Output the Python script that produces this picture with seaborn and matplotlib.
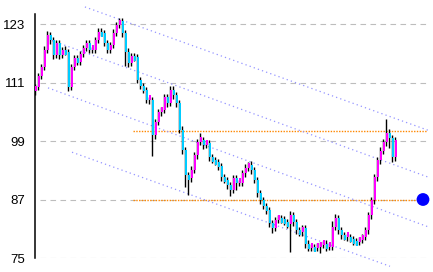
import numpy as np
import pandas as pd
import matplotlib
matplotlib.use("Agg")
import matplotlib.pyplot as plt
import seaborn as sns

# ---------------- data ----------------
closes = [
    110.1, 112.3, 114.2, 117.7, 120.7, 119.7, 116.6, 119.1, 116.6, 117.7,
    117.3, 110.1, 114.2, 116.0, 115.2, 116.8, 118.1, 119.1, 117.7, 117.7,
    119.7, 121.4, 121.2, 119.1, 117.7, 118.7, 121.2, 122.8, 123.6, 121.2,
    117.3, 115.0, 116.4, 116.2, 111.5, 110.3, 109.5, 107.4, 107.4, 100.2,
    102.9, 104.9, 105.4, 108.0, 106.8, 109.5, 108.4, 106.8, 101.3, 97.2,
    92.0, 91.4, 93.1, 96.1, 98.8, 99.2, 98.2, 98.6, 95.7, 95.1,
    94.7, 93.9, 91.6, 91.0, 90.0, 89.0, 91.4, 90.4, 90.4, 92.4,
    93.5, 94.1, 93.1, 91.0, 88.3, 86.9, 85.7, 84.8, 82.2, 81.2,
    82.8, 83.2, 83.0, 82.4, 82.0, 83.8, 82.4, 80.7, 80.3, 81.2,
    77.9, 77.1, 77.3, 77.1, 77.3, 77.7, 77.9, 77.3, 77.3, 81.4,
    83.2, 80.7, 79.7, 79.3, 79.3, 78.9, 78.5, 78.3, 78.7, 79.3,
    80.7, 83.8, 86.9, 91.6, 95.1, 97.0, 98.8, 100.6, 99.6, 95.7,
    99.2,
]
first_open = 109.3

lo_wick = [
    0.8, 0.6, 0.6, 0.6, 0.6, 0.7, 0.7, 0.6, 0.7, 0.6,
    0.7, 0.8, 0.6, 0.7, 0.7, 0.6, 0.6, 0.7, 0.7, 0.6,
    0.6, 0.6, 0.7, 0.7, 0.6, 0.7, 0.6, 0.6, 0.6, 0.8,
    3.0, 0.9, 0.7, 0.8, 0.7, 0.7, 0.6, 0.7, 0.8, 4.3,
    0.7, 0.6, 0.7, 0.6, 0.8, 0.6, 0.7, 0.8, 0.7, 0.8,
    2.5, 3.5, 0.9, 0.6, 0.7, 0.6, 0.8, 0.7, 0.8, 0.7,
    0.7, 0.8, 0.8, 0.7, 0.8, 1.2, 0.7, 1.5, 0.7, 0.6,
    0.7, 0.6, 0.8, 0.7, 0.8, 0.8, 0.7, 0.7, 0.9, 1.0,
    0.7, 0.6, 0.8, 0.7, 0.8, 5.8, 0.8, 0.7, 0.8, 0.7,
    0.8, 0.7, 0.6, 0.7, 0.6, 1.2, 0.7, 0.8, 0.6, 0.7,
    0.7, 0.8, 0.7, 0.7, 0.8, 0.7, 0.8, 0.7, 0.6, 0.6,
    0.7, 0.8, 0.7, 0.8, 0.9, 0.8, 0.7, 0.8, 2.0, 1.0,
    0.7,
]
hi_wick = [
    0.6, 0.6, 0.6, 0.7, 0.8, 0.7, 0.6, 0.7, 0.6, 0.6,
    0.7, 0.6, 0.6, 0.6, 0.7, 0.7, 0.6, 0.6, 0.7, 0.6,
    0.6, 0.7, 0.7, 0.6, 0.6, 0.6, 0.7, 0.6, 0.7, 0.6,
    0.6, 0.7, 0.7, 0.6, 0.6, 0.7, 0.6, 0.6, 0.6, 0.6,
    0.7, 0.7, 0.6, 0.7, 0.6, 0.8, 0.7, 0.6, 0.6, 0.7,
    0.6, 0.6, 0.7, 0.7, 0.7, 1.4, 0.6, 0.7, 0.6, 0.7,
    0.6, 0.7, 0.6, 0.6, 0.7, 0.6, 0.7, 0.6, 0.6, 0.7,
    0.7, 0.6, 0.7, 0.6, 0.6, 0.7, 0.6, 0.6, 0.7, 0.6,
    0.7, 0.7, 0.6, 0.6, 0.7, 0.8, 0.6, 0.6, 0.7, 0.6,
    0.6, 0.7, 0.6, 0.6, 0.7, 0.6, 0.6, 0.7, 0.6, 1.2,
    0.8, 0.6, 0.6, 0.7, 0.6, 0.6, 0.7, 0.6, 0.6, 0.7,
    0.6, 0.7, 0.7, 0.6, 0.7, 0.7, 0.7, 3.0, 0.8, 0.6,
    0.7,
]

y_ticks = [75, 87, 99, 111, 123]
y_tick_labels = ["75", "87", "99", "111", "123"]

# horizontal reference levels (orange dotted)
ref_levels = [101.0, 87.0]
ref_x = [32.3, 130.3]

# parallel trend channel lines: (x0, y0, x1, y1) in data units
trend_x0 = [16.3, 5.3, 4.0, 12.0]
trend_y0 = [126.5, 119.6, 109.9, 96.7]
trend_x1 = [130.7, 130.7, 130.7, 118.0]
trend_y1 = [101.2, 91.6, 81.4, 73.3]

# marker point
dot_x = [129.0]
dot_y = [87.0]

# ---------------- build table ----------------
n = len(closes)
idx = np.arange(n)
opens = [first_open] + closes[:-1]
df = pd.DataFrame({"i": idx, "open": opens, "close": closes,
                   "lo_w": lo_wick, "hi_w": hi_wick})
df["low"] = df[["open", "close"]].min(axis=1) - df["lo_w"]
df["high"] = df[["open", "close"]].max(axis=1) + df["hi_w"]
df["up"] = df["close"] >= df["open"]

# ---------------- style ----------------
sns.set_style("white")
plt.rcParams["font.family"] = ["Liberation Sans", "DejaVu Sans"]

W, H = 433, 272
fig = plt.figure(figsize=(W / 100, H / 100), dpi=100)
ax = fig.add_axes([35 / W, 14 / H, (432 - 35) / W, 244 / H])
ax.set_xlim(-1 / 3, 132.0)
ax.set_ylim(75, 75 + 244 / 4.875)

# gridlines
for v in y_ticks:
    ax.plot([1.33, 130.3], [v, v], color="#bdbdbd", lw=0.8,
            ls=(0, (5, 4)), zorder=1)

# orange dotted levels
for v in ref_levels:
    ax.plot(ref_x, [v, v], color="#ff8800", lw=1.0, ls=(0, (1, 1)), zorder=1)

# trend channel lines
for x0, y0, x1, y1 in zip(trend_x0, trend_y0, trend_x1, trend_y1):
    ax.plot([x0, x1], [y0, y1], color="#9494ff", lw=0.9,
            ls=(0, (1, 2.5)), clip_on=False, zorder=2)

# wicks
ax.vlines(df["i"] - 0.4, df["low"], df["high"], color="black", lw=1.0, zorder=3)

# bodies
colors = np.where(df["up"], "#ff00ff", "#00ccff")
heights = (df["close"] - df["open"]).to_numpy()
heights = np.where(np.abs(heights) < 1.0, np.where(heights >= 0, 1.0, -1.0), heights)
ax.bar(df["i"], heights, bottom=df["open"], width=0.9, color=colors,
       linewidth=0, zorder=4)

# marker dot
sns.scatterplot(x=dot_x, y=dot_y, ax=ax, s=85, color="#0000ff",
                edgecolor="none", zorder=5, clip_on=False, legend=False)

# axes styling
for s in ["top", "right", "bottom"]:
    ax.spines[s].set_visible(False)
ax.spines["left"].set_color("black")
ax.spines["left"].set_linewidth(1.1)
ax.set_xticks([])
ax.set_yticks(y_ticks)
ax.set_yticklabels(y_tick_labels)
ax.tick_params(axis="y", direction="in", length=3, width=0.8, pad=7.2,
               labelsize=9.5, colors="black")
ax.set_xlabel("")
ax.set_ylabel("")

fig.savefig("out.png", dpi=100)
